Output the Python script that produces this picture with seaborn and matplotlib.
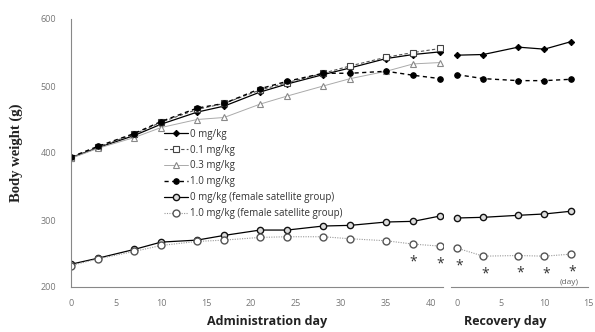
import numpy as np
import pandas as pd
import matplotlib.pyplot as plt
import seaborn as sns

# dosing period (days) and recovery period (days)
admin_days = [0, 3, 7, 10, 14, 17, 21, 24, 28, 31, 35, 38, 41]
recovery_days = [0, 3, 7, 10, 13]

# male groups, administration period
male_0 = [393, 408, 426, 443, 461, 470, 491, 503, 517, 527, 541, 547, 551]
male_01 = [393, 409, 428, 446, 465, 474, 494, 505, 519, 530, 543, 550, 556]
male_03 = [392, 407, 423, 438, 450, 453, 473, 485, 500, 511, 522, 533, 535]
male_10 = [394, 410, 429, 447, 467, 474, 496, 507, 519, 519, 522, 516, 511]
# male groups, recovery period
male_0_rec = [546, 547, 558, 555, 566]
male_10_rec = [517, 511, 508, 508, 510]

# female satellite groups
female_0 = [234, 243, 256, 267, 270, 277, 285, 285, 291, 292, 297, 298, 306]
female_10 = [232, 242, 253, 262, 268, 270, 274, 275, 275, 272, 269, 264, 261]
female_0_rec = [303, 304, 307, 309, 313]
female_10_rec = [258, 246, 247, 246, 249]

# significance marks (female 1.0 mg/kg)
star_admin_days = [38, 41]
star_rec_days = [0, 3, 7, 10, 13]

labels = ['0 mg/kg', '0.1 mg/kg', '0.3 mg/kg', '1.0 mg/kg',
          '0 mg/kg (female satellite group)', '1.0 mg/kg (female satellite group)']

sns.set_style('white')
plt.rcParams['font.family'] = ['Open Sans', 'DejaVu Sans']

fig = plt.figure(figsize=(5.95, 3.32), dpi=100)
ax1 = fig.add_axes([71/595, 45/332, 372/595, 268/332])
ax2 = fig.add_axes([451/595, 45/332, 137/595, 268/332], sharey=ax1)

styles = [
    dict(color='black', linestyle='-', marker='D', markersize=3.2,
         markerfacecolor='black', markeredgecolor='black', linewidth=0.9),
    dict(color='#555555', linestyle=(0, (3, 2)), marker='s', markersize=4,
         markerfacecolor='white', markeredgecolor='#444444', markeredgewidth=0.8, linewidth=0.8),
    dict(color='#aaaaaa', linestyle='-', marker='^', markersize=4,
         markerfacecolor='white', markeredgecolor='#888888', markeredgewidth=0.8, linewidth=0.7),
    dict(color='black', linestyle=(0, (3, 2.5)), marker='o', markersize=4,
         markerfacecolor='black', markeredgecolor='black', linewidth=1.0),
    dict(color='black', linestyle='-', marker='o', markersize=4.5,
         markerfacecolor='#dddddd', markeredgecolor='#111111', markeredgewidth=1.0, linewidth=0.9),
    dict(color='#999999', linestyle=(0, (1, 1.2)), marker='o', markersize=5,
         markerfacecolor='white', markeredgecolor='#555555', markeredgewidth=1.0, linewidth=0.8),
]

admin_series = [male_0, male_01, male_03, male_10, female_0, female_10]
for vals, lab, st in zip(admin_series, labels, styles):
    sns.lineplot(x=admin_days, y=vals, ax=ax1, label=lab, **st)

rec_series = [(male_0_rec, styles[0]), (male_10_rec, styles[3]),
              (female_0_rec, styles[4]), (female_10_rec, styles[5])]
for vals, st in rec_series:
    sns.lineplot(x=recovery_days, y=vals, ax=ax2, legend=False, **st)

# asterisks under the female 1.0 mg/kg markers
for d in star_admin_days:
    v = female_10[admin_days.index(d)]
    ax1.text(d, v - 26, '*', ha='center', va='center', fontsize=10, color='#333333')
for d in star_rec_days:
    v = female_10_rec[recovery_days.index(d)]
    ax2.text(d + 0.2, v - 26, '*', ha='center', va='center', fontsize=10, color='#333333')

ax1.set_xlim(0, 41.3)
ax2.set_xlim(-0.7, 15)
ax1.set_ylim(200, 600)
ax1.set_xticks(range(0, 41, 5))
ax2.set_xticks([0, 5, 10, 15])
ax1.set_yticks([200, 300, 400, 500, 600])

for ax in (ax1, ax2):
    for s in ['top', 'right']:
        ax.spines[s].set_visible(False)
    ax.spines['bottom'].set_color('#888888')
    ax.spines['bottom'].set_linewidth(0.8)
    ax.tick_params(axis='x', direction='inout', length=5, width=0.7, colors='#888888',
                   labelsize=6.5, labelcolor='#777777', pad=6)
    ax.set_xlabel('')
    ax.set_ylabel('')

ax1.spines['left'].set_color('#888888')
ax1.spines['left'].set_linewidth(0.8)
ax1.tick_params(axis='y', direction='inout', length=5, width=0.7, colors='#888888',
                labelsize=6.5, labelcolor='#777777', pad=8)
ax2.spines['left'].set_visible(False)
ax2.tick_params(axis='y', left=False, labelleft=False)

ax1.set_ylabel('Body weight (g)', fontsize=10.5, fontweight='bold',
               family='Liberation Serif', color='#222222')
ax1.yaxis.set_label_coords(-0.13, 0.5)

ax2.text(0.86, 0.004, '(day)', transform=ax2.transAxes, fontsize=6,
         color='#666666', ha='center', va='bottom')

fig.text(267/595, 1 - 322/332, 'Administration day', ha='center', va='center',
         fontsize=9, fontweight='bold', color='#222222')
fig.text(505/595, 1 - 322/332, 'Recovery day', ha='center', va='center',
         fontsize=9, fontweight='bold', color='#222222')

ax1.legend(loc='upper left', bbox_to_anchor=(0.24, 0.605), frameon=False,
           fontsize=7, handlelength=2.4, labelspacing=0.5, borderaxespad=0,
           handletextpad=0.3, labelcolor='#333333')

fig.savefig('out.png', dpi=100)
